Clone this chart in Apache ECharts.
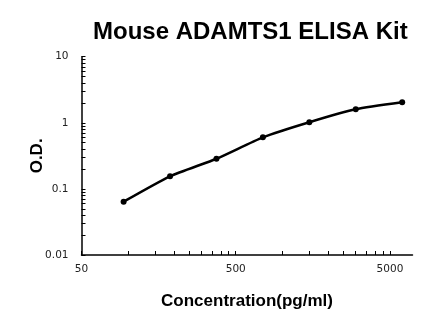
<!DOCTYPE html>
<html><head><meta charset="utf-8">
<script src="https://cdn.jsdelivr.net/npm/echarts@6/dist/echarts.min.js"></script>
<style>html,body{margin:0;padding:0;background:#fff}#c{width:446px;height:326px}</style>
</head><body><div id="c"></div>
<script>
const concentration = [93.75, 187.5, 375, 750, 1500, 3000, 6000];
const od = [0.064, 0.155, 0.286, 0.602, 1.02, 1.60, 2.04];
const xTickLabels = [50, 500, 5000];
const xMinorTicks = [50, 100, 150, 200, 250, 300, 350, 400, 450, 500, 1000, 1500, 2000, 2500, 3000, 3500, 4000, 4500, 5000];
const yTickLabels = [0.01, 0.1, 1, 10];
const yMinorTicks = [];
[0.01, 0.1, 1].forEach(d => { for (let k = 1; k <= 9; k++) yMinorTicks.push(+(d * k).toPrecision(3)); });
yMinorTicks.push(10);

const chart = echarts.init(document.getElementById('c'), null, {renderer: 'canvas'});
const font = '"Liberation Sans", Arial, sans-serif';
const tickFont = '"DejaVu Sans", Verdana, sans-serif';
chart.setOption({
  animation: false,
  textStyle: {fontFamily: font},
  title: {
    text: 'Mouse ADAMTS1 ELISA Kit',
    left: 88, top: 15,
    textStyle: {fontSize: 24, fontWeight: 'bold', color: '#000', fontFamily: font}
  },
  grid: {left: 81.5, top: 56.7, right: 33.5, bottom: 71, containLabel: false},
  xAxis: {
    type: 'log', logBase: 10, min: 50, max: 7000,
    name: 'Concentration(pg/ml)', nameLocation: 'middle', nameGap: 38, nameMoveOverlap: false,
    nameTextStyle: {fontSize: 17, fontWeight: 'bold', color: '#000', fontFamily: font},
    axisLine: {lineStyle: {color: '#000', width: 1.5}},
    axisTick: {show: true, inside: true, length: 4, lineStyle: {color: '#000', width: 1}, customValues: xMinorTicks},
    axisLabel: {customValues: xTickLabels, color: '#222', fontSize: 10.5, margin: 9, fontFamily: tickFont,
      formatter: v => String(v)},
    splitLine: {show: false}
  },
  yAxis: {
    type: 'log', logBase: 10, min: 0.01, max: 10,
    name: 'O.D.', nameLocation: 'middle', nameGap: 36, nameRotate: 90, nameMoveOverlap: false,
    nameTextStyle: {fontSize: 17, fontWeight: 'bold', color: '#000', fontFamily: font},
    axisLine: {show: true, lineStyle: {color: '#000', width: 1.5}},
    axisTick: {show: true, inside: true, length: 4, lineStyle: {color: '#000', width: 1}, customValues: yMinorTicks},
    axisLabel: {customValues: yTickLabels, color: '#222', fontSize: 10.5, margin: 13, fontFamily: tickFont,
      formatter: v => String(v)},
    splitLine: {show: false}
  },
  series: [{
    type: 'line',
    data: concentration.map((c, i) => [c, od[i]]),
    smooth: 0.2,
    symbol: 'circle', symbolSize: 6,
    lineStyle: {color: '#000', width: 2.5},
    itemStyle: {color: '#000'}
  }]
});
</script></body></html>
